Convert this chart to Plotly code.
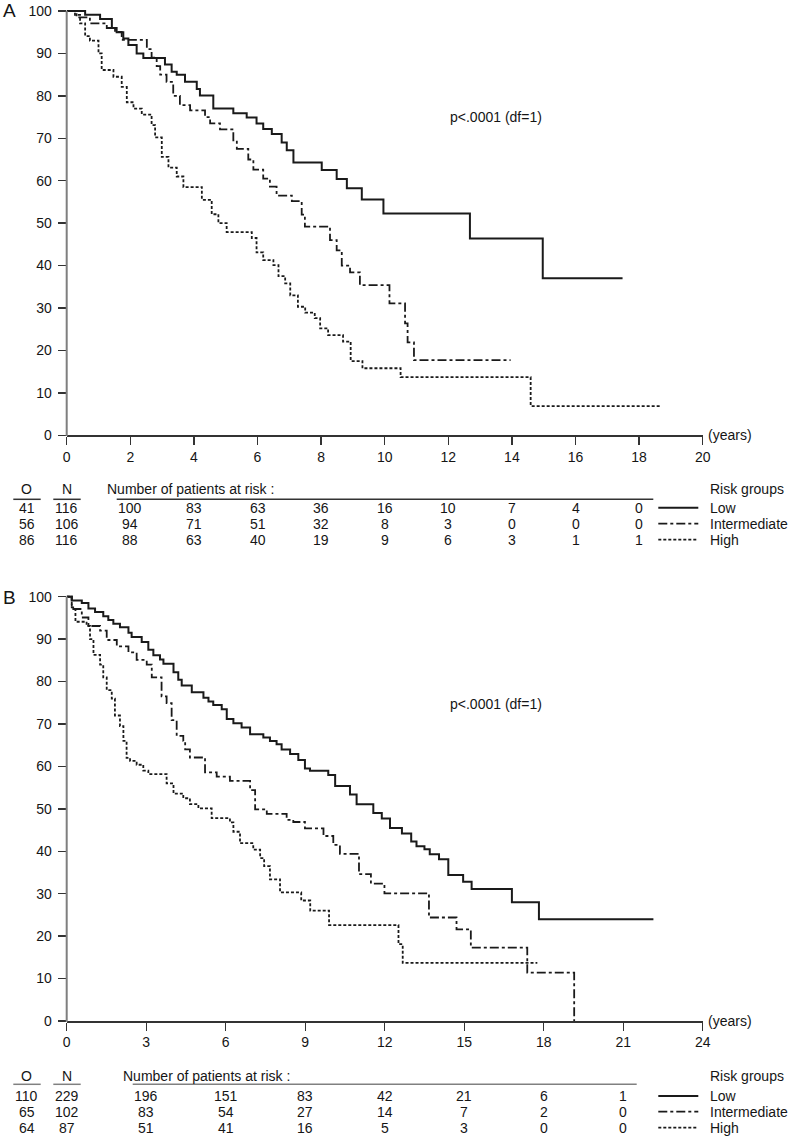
import plotly.graph_objects as go

W, H = 791, 1137
FONT = "Liberation Sans, Arial, Helvetica, sans-serif"
INK = "#1a1a1a"
TXT = "#151515"

# ---------------- Panel A data (years, % surviving) ----------------
a_low_t = [0, 0.58, 1.05, 1.42, 1.57, 1.78, 1.94, 2.20, 2.41, 3.09, 3.30, 3.46, 3.72, 4.09, 4.19, 4.61,
           5.24, 5.66, 5.97, 6.18, 6.45, 6.76, 6.92, 7.13, 8.02, 8.49, 8.81, 9.28, 9.96, 12.68, 14.97, 17.48]
a_low_s = [100, 99.1, 98.1, 96.0, 95.0, 93.5, 92.0, 90.0, 88.9, 87.4, 85.7, 85.0, 83.3, 81.6, 80.1, 77.0,
           75.9, 74.9, 73.5, 72.2, 71.0, 69.0, 67.2, 64.3, 62.5, 60.4, 58.2, 55.6, 52.3, 46.4, 37.0, 37.0]

a_int_t = [0, 0.31, 0.73, 1.26, 1.52, 1.73, 2.52, 2.67, 2.83, 2.94, 3.14, 3.35, 3.56, 3.88, 4.35, 4.51,
           4.82, 5.24, 5.35, 5.71, 5.87, 6.18, 6.39, 6.60, 7.08, 7.39, 7.49, 8.28, 8.49, 8.65, 8.91, 9.22,
           10.15, 10.64, 10.72, 10.92, 13.96]
a_int_s = [100, 98.5, 97.1, 96.0, 95.1, 93.2, 91.0, 89.0, 87.0, 85.0, 83.3, 80.0, 77.8, 76.6, 75.0, 73.5,
           72.1, 69.5, 67.5, 65.0, 62.6, 60.5, 58.6, 56.5, 55.2, 52.0, 49.2, 46.0, 43.6, 40.0, 38.4, 35.4,
           31.1, 26.4, 21.9, 17.7, 17.7]

a_high_t = [0, 0.26, 0.42, 0.58, 0.73, 1.00, 1.10, 1.47, 1.73, 1.89, 2.10, 2.36, 2.67, 2.78, 2.99, 3.20,
            3.46, 3.67, 4.25, 4.56, 4.77, 5.03, 5.82, 5.97, 6.18, 6.50, 6.66, 6.87, 7.03, 7.27, 7.50, 7.80,
            7.97, 8.22, 8.69, 8.93, 9.30, 10.50, 14.59, 18.71]
a_high_s = [100, 99.1, 97.1, 94.1, 93.0, 90.0, 86.1, 84.5, 82.1, 78.5, 77.0, 75.6, 73.1, 70.2, 65.6, 63.1,
            61.0, 58.5, 55.5, 52.1, 50.0, 47.9, 46.5, 43.1, 41.3, 40.1, 37.5, 35.8, 33.0, 30.3, 28.9, 27.6,
            25.2, 23.6, 22.1, 17.5, 15.8, 13.7, 6.9, 6.9]

a_ticks = [0, 2, 4, 6, 8, 10, 12, 14, 16, 18, 20]
a_risk_times = [2, 4, 6, 8, 10, 12, 14, 16, 18]
a_O = [41, 56, 86]
a_N = [116, 106, 116]
a_risk_low = [100, 83, 63, 36, 16, 10, 7, 4, 0]
a_risk_int = [94, 71, 51, 32, 8, 3, 0, 0, 0]
a_risk_high = [88, 63, 40, 19, 9, 6, 3, 1, 1]

# ---------------- Panel B data ----------------
b_low_t = [0, 0.19, 0.57, 0.82, 1.07, 1.38, 1.57, 1.76, 2.01, 2.33, 2.45, 2.83, 3.08, 3.27, 3.52, 3.65,
           4.03, 4.21, 4.34, 4.72, 5.16, 5.35, 5.53, 5.85, 6.04, 6.29, 6.60, 6.92, 7.42, 7.67, 7.92, 8.11,
           8.43, 8.74, 8.99, 9.18, 9.87, 10.13, 10.69, 10.94, 11.57, 11.89, 12.20, 12.65, 13.00, 13.20,
           13.50, 13.70, 14.05, 14.40, 14.96, 15.28, 16.80, 17.82, 22.14]
b_low_s = [100, 99.1, 98.5, 97.2, 96.4, 95.4, 94.5, 93.6, 92.8, 91.5, 90.5, 89.3, 87.5, 86.2, 85.2, 84.2,
           82.2, 80.4, 79.1, 77.5, 76.2, 75.3, 74.5, 73.5, 71.2, 70.2, 69.2, 67.6, 66.8, 66.0, 65.2, 64.0,
           62.9, 61.5, 59.5, 59.0, 58.0, 55.4, 53.4, 51.1, 49.0, 47.7, 45.5, 44.2, 42.3, 41.2,
           40.5, 39.3, 38.1, 34.4, 32.8, 31.1, 28.0, 24.0, 24.0]

b_int_t = [0, 0.19, 0.57, 0.82, 1.26, 1.51, 1.89, 2.33, 2.64, 3.02, 3.21, 3.58, 3.77, 3.96, 4.15, 4.40,
           4.47, 4.65, 5.22, 5.66, 6.16, 6.92, 7.11, 7.55, 8.30, 8.55, 8.99, 9.69, 10.06, 10.31, 11.03,
           11.48, 11.99, 13.67, 14.71, 15.25, 17.38, 19.15]
b_int_s = [100, 97.1, 95.1, 93.1, 92.0, 89.8, 88.3, 86.9, 85.1, 84.0, 81.0, 76.5, 74.9, 70.9, 67.2, 66.0,
           64.0, 62.1, 58.6, 57.6, 56.6, 54.4, 49.9, 48.8, 47.4, 46.9, 45.4, 43.6, 41.5, 39.4, 34.6,
           32.4, 30.1, 24.4, 21.6, 17.3, 11.4, 0]

b_high_t = [0, 0.19, 0.33, 0.75, 0.88, 1.01, 1.26, 1.38, 1.51, 1.70, 1.82, 2.01, 2.14, 2.26, 2.39, 2.64,
            2.89, 3.08, 3.77, 4.03, 4.40, 4.65, 4.97, 5.47, 6.16, 6.29, 6.54, 7.04, 7.30, 7.45, 7.67, 8.05,
            8.85, 9.19, 9.90, 12.52, 12.68, 17.76]
b_high_s = [100, 97.5, 94.1, 93.1, 90.0, 86.3, 84.0, 81.0, 78.0, 76.0, 72.0, 69.5, 66.0, 62.0, 61.3, 60.4,
            59.0, 58.2, 56.0, 53.6, 52.5, 51.1, 50.1, 47.8, 46.8, 44.6, 41.9, 40.4, 38.4, 36.5, 33.4, 30.3,
            28.4, 26.0, 22.6, 18.1, 13.7, 13.7]

b_ticks = [0, 3, 6, 9, 12, 15, 18, 21, 24]
b_risk_times = [3, 6, 9, 12, 15, 18, 21]
b_O = [110, 65, 64]
b_N = [229, 102, 87]
b_risk_low = [196, 151, 83, 42, 21, 6, 1]
b_risk_int = [83, 54, 27, 14, 7, 2, 0]
b_risk_high = [51, 41, 16, 5, 3, 0, 0]

groups = ["Low", "Intermediate", "High"]
y_ticks = [0, 10, 20, 30, 40, 50, 60, 70, 80, 90, 100]

# ---------------- styles ----------------
STYLES = {
    "Low": dict(color=INK, width=2, dash="solid"),
    "Intermediate": dict(color=INK, width=1.8, dash="9px,3px,3px,3px"),
    "High": dict(color=INK, width=1.8, dash="3px,2px"),
}


def px_x(p):
    return p / W


def px_y(p):
    return 1 - p / H


fig = go.Figure()

for (xa, ya), series in [
    (("x", "y"), [("Low", a_low_t, a_low_s), ("Intermediate", a_int_t, a_int_s), ("High", a_high_t, a_high_s)]),
    (("x2", "y2"), [("Low", b_low_t, b_low_s), ("Intermediate", b_int_t, b_int_s), ("High", b_high_t, b_high_s)]),
]:
    for name, t, s in series:
        fig.add_trace(go.Scatter(x=t, y=s, mode="lines", line_shape="hv", line=STYLES[name],
                                 xaxis=xa, yaxis=ya, showlegend=False, hoverinfo="skip"))

# Pixel geometry of the two panels
X0, X1 = 66.7, 702.7
panels = {
    "A": dict(y0=435.3, y100=11.0, xref="x", ticks=a_ticks, xmax=20,
              header=489.0, uline=499.3, rows=[507.7, 523.7, 539.7],
              line_l=116.7, line_r=653.3, linecol="#333333",
              O=a_O, N=a_N, times=a_risk_times, risk=[a_risk_low, a_risk_int, a_risk_high],
              pval=117.3, letter=10.8),
    "B": dict(y0=1021.0, y100=596.7, xref="x2", ticks=b_ticks, xmax=24,
              header=1075.7, uline=1084.3, rows=[1096.0, 1111.7, 1127.7],
              line_l=132.7, line_r=636.7, linecol="#808080",
              O=b_O, N=b_N, times=b_risk_times, risk=[b_risk_low, b_risk_int, b_risk_high],
              pval=704.0, letter=597.0),
}

YMAX = 101.5
layout_axes = {}
for key, (xn, yn) in zip(["A", "B"], [("xaxis", "yaxis"), ("xaxis2", "yaxis2")]):
    P = panels[key]
    per = (P["y0"] - P["y100"]) / 100.0
    top_px = P["y0"] - YMAX * per
    layout_axes[xn] = dict(
        domain=[px_x(X0), px_x(X1)], range=[0, P["xmax"]], tickvals=P["ticks"],
        ticks="outside", ticklen=8, tickwidth=1.4, tickcolor="#333333",
        showline=True, linecolor="#333333", linewidth=1.5, showgrid=False, zeroline=False,
        anchor=yn.replace("axis", ""), tickfont=dict(size=14, color=TXT, family=FONT),
        automargin=False, fixedrange=True,
    )
    layout_axes[yn] = dict(
        domain=[px_y(P["y0"]), px_y(top_px)], range=[0, YMAX], tickvals=y_ticks,
        ticks="outside", ticklen=8, tickwidth=1.4, tickcolor="#333333",
        showline=False, showgrid=False, zeroline=False, ticklabelstandoff=3,
        anchor=xn.replace("axis", ""), tickfont=dict(size=14, color=TXT, family=FONT),
        automargin=False, fixedrange=True,
    )

shapes = []
annotations = []


def txt(text, x, y, xref="paper", xanchor="center", size=14):
    annotations.append(dict(text=text, x=x, y=y, xref=xref, yref="paper", xanchor=xanchor,
                            yanchor="middle", showarrow=False,
                            font=dict(size=size, color=TXT, family=FONT)))


for key, P in panels.items():
    # y-axis line (grey) from 0 to 100
    shapes.append(dict(type="line", xref="paper", yref="paper", x0=px_x(X0), x1=px_x(X0),
                       y0=px_y(P["y0"] + 0.7), y1=px_y(P["y100"]), line=dict(color="#7f7f7f", width=2)))
    # panel letter, p value, years label
    txt(key, px_x(1.0), px_y(P["letter"]), xanchor="left", size=19)
    txt("p&lt;.0001 (df=1)", px_x(448), px_y(P["pval"]), xanchor="left")
    txt("(years)", px_x(706), px_y(P["y0"]), xanchor="left")
    # risk table headers
    txt("O", px_x(26.7), px_y(P["header"]))
    txt("N", px_x(66.7), px_y(P["header"]))
    txt("Number of patients at risk :", px_x(P["line_l"] - 12), px_y(P["header"]), xanchor="left")
    txt("Risk groups", px_x(708), px_y(P["header"]), xanchor="left")
    for (l, r) in [(13.3, 40.7), (53.3, 80.7), (P["line_l"], P["line_r"])]:
        shapes.append(dict(type="line", xref="paper", yref="paper", x0=px_x(l), x1=px_x(r),
                           y0=px_y(P["uline"]), y1=px_y(P["uline"]),
                           line=dict(color=P["linecol"], width=1.5)))
    for i, g in enumerate(groups):
        yy = px_y(P["rows"][i])
        txt(str(P["O"][i]), px_x(26.7), yy)
        txt(str(P["N"][i]), px_x(66.7), yy)
        for t, v in zip(P["times"], P["risk"][i]):
            txt(str(v), t, yy, xref=P["xref"])
        st = STYLES[g]
        shapes.append(dict(type="line", xref="paper", yref="paper", x0=px_x(658.3), x1=px_x(698.3),
                           y0=yy, y1=yy, line=dict(color=INK, width=st["width"], dash=st["dash"])))
        txt(g, px_x(708), yy, xanchor="left")

fig.update_layout(
    width=W, height=H, autosize=False,
    margin=dict(l=0, r=0, t=0, b=0),
    paper_bgcolor="white", plot_bgcolor="white",
    font=dict(family=FONT, size=14, color=TXT),
    shapes=shapes, annotations=annotations, showlegend=False,
    **layout_axes,
)

fig.write_html(
    "out.html",
    config={"displayModeBar": False, "staticPlot": True},
    post_script="document.body.style.margin='0';document.body.style.padding='0';"
                "document.body.style.overflow='hidden';",
)
